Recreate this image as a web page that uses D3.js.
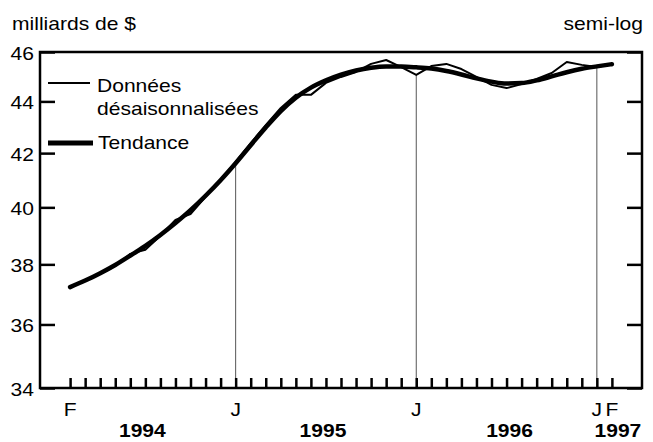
<!DOCTYPE html>
<html>
<head>
<meta charset="utf-8">
<script src="https://cdn.jsdelivr.net/npm/d3@7"></script>
<style>
  body { margin: 0; background: #fff; }
  svg { display: block; }
  text { font-family: "Liberation Sans", Arial, sans-serif; font-size: 18px; fill: #000; }
</style>
</head>
<body>
<div id="chart"></div>
<script>
// Month index 0 = February 1994, one value per month up to February 1997
var months = d3.range(0, 37);

// Seasonally adjusted data (billions of $)
var saValues = [37.23, 37.44, 37.68, 37.95, 38.36, 38.50, 38.99, 39.55, 39.76, 40.38,
  41.00, 41.67, 42.38, 43.07, 43.74, 44.26, 44.26, 44.74, 44.98, 45.18,
  45.51, 45.67, 45.38, 45.06, 45.42, 45.51, 45.30, 44.98, 44.66, 44.53,
  44.69, 44.90, 45.14, 45.59, 45.47, 45.38, 45.51];

// Trend
var trendValues = [37.23, 37.45, 37.70, 37.98, 38.30, 38.64, 39.02, 39.44, 39.90, 40.42,
  40.99, 41.62, 42.30, 42.98, 43.62, 44.15, 44.55, 44.84, 45.07, 45.24,
  45.35, 45.40, 45.40, 45.37, 45.32, 45.22, 45.08, 44.92, 44.79, 44.71,
  44.73, 44.84, 45.00, 45.17, 45.31, 45.41, 45.50];

var yTicks = [34, 36, 38, 40, 42, 44, 46];

var monthLabelPos = [0, 11, 23, 35, 36];
var monthLabels = ["F", "J", "J", "J", "F"];

var yearLabelPos = [4.8, 16.8, 29.2, 36.4];
var yearLabels = ["1994", "1995", "1996", "1997"];

// Vertical reference lines at each January
var janMonths = [11, 23, 35];

var W = 653, H = 442;
var plot = {left: 40, right: 642, top: 52, bottom: 388};

var svg = d3.select("#chart").append("svg")
  .attr("width", W)
  .attr("height", H);

var x = d3.scaleLinear().domain([-2, 38]).range([plot.left, plot.right]);
var y = d3.scaleLog().domain([34, 46]).range([plot.bottom, plot.top]);

// text is horizontally stretched in the original
function label(px, py, str, anchor, weight) {
  svg.append("text")
    .attr("transform", "translate(" + px + "," + py + ") scale(1.17,1)")
    .attr("text-anchor", anchor || "start")
    .attr("font-weight", weight || "normal")
    .text(str);
}

// January reference lines
svg.append("g").selectAll("line")
  .data(janMonths)
  .enter().append("line")
  .attr("x1", function(m) { return x(m); })
  .attr("x2", function(m) { return x(m); })
  .attr("y1", function(m) { return y(saValues[m]); })
  .attr("y2", plot.bottom)
  .attr("stroke", "#555")
  .attr("stroke-width", 1);

// Axes (ticks point inwards)
function styleAxis(g) {
  g.select(".domain").remove();
  g.selectAll(".tick line").attr("stroke", "#000").attr("stroke-width", 2.5);
  g.selectAll(".tick text").remove();
}

svg.append("g")
  .attr("transform", "translate(" + plot.left + ",0)")
  .call(d3.axisRight(y).tickValues(yTicks).tickSize(15).tickSizeOuter(0))
  .call(styleAxis);

svg.append("g")
  .attr("transform", "translate(" + plot.right + ",0)")
  .call(d3.axisLeft(y).tickValues(yTicks).tickSize(15).tickSizeOuter(0))
  .call(styleAxis);

svg.append("g")
  .attr("transform", "translate(0," + plot.bottom + ")")
  .call(d3.axisTop(x).tickValues(months).tickSize(10).tickSizeOuter(0))
  .call(styleAxis);

// Frame
svg.append("rect")
  .attr("x", plot.left)
  .attr("y", plot.top)
  .attr("width", plot.right - plot.left)
  .attr("height", plot.bottom - plot.top)
  .attr("fill", "none")
  .attr("stroke", "#000")
  .attr("stroke-width", 2.5);

// Lines
var line = d3.line()
  .x(function(d, i) { return x(months[i]); })
  .y(function(d) { return y(d); });

svg.append("path")
  .datum(trendValues)
  .attr("fill", "none")
  .attr("stroke", "#000")
  .attr("stroke-width", 4.5)
  .attr("stroke-linecap", "round")
  .attr("stroke-linejoin", "round")
  .attr("d", line.curve(d3.curveMonotoneX));

svg.append("path")
  .datum(saValues)
  .attr("fill", "none")
  .attr("stroke", "#000")
  .attr("stroke-width", 2)
  .attr("stroke-linejoin", "round")
  .attr("d", line.curve(d3.curveLinear));

// Y tick labels
yTicks.forEach(function(t) {
  label(34, y(t) + 8, String(t), "end");
});

// X labels
monthLabels.forEach(function(s, i) {
  label(x(monthLabelPos[i]), 416, s, "middle");
});
yearLabels.forEach(function(s, i) {
  label(x(yearLabelPos[i]), 437, s, "middle", "bold");
});

// Titles
label(12, 30, "milliards de $", "start");
label(643, 30, "semi-log", "end");

// Legend
svg.append("line")
  .attr("x1", 48).attr("x2", 90)
  .attr("y1", 83).attr("y2", 83)
  .attr("stroke", "#000").attr("stroke-width", 2);
label(97, 92, "Données", "start");
label(97, 115, "désaisonnalisées", "start");

svg.append("line")
  .attr("x1", 48).attr("x2", 93)
  .attr("y1", 143).attr("y2", 143)
  .attr("stroke", "#000").attr("stroke-width", 5);
label(98, 149, "Tendance", "start");
</script>
</body>
</html>
